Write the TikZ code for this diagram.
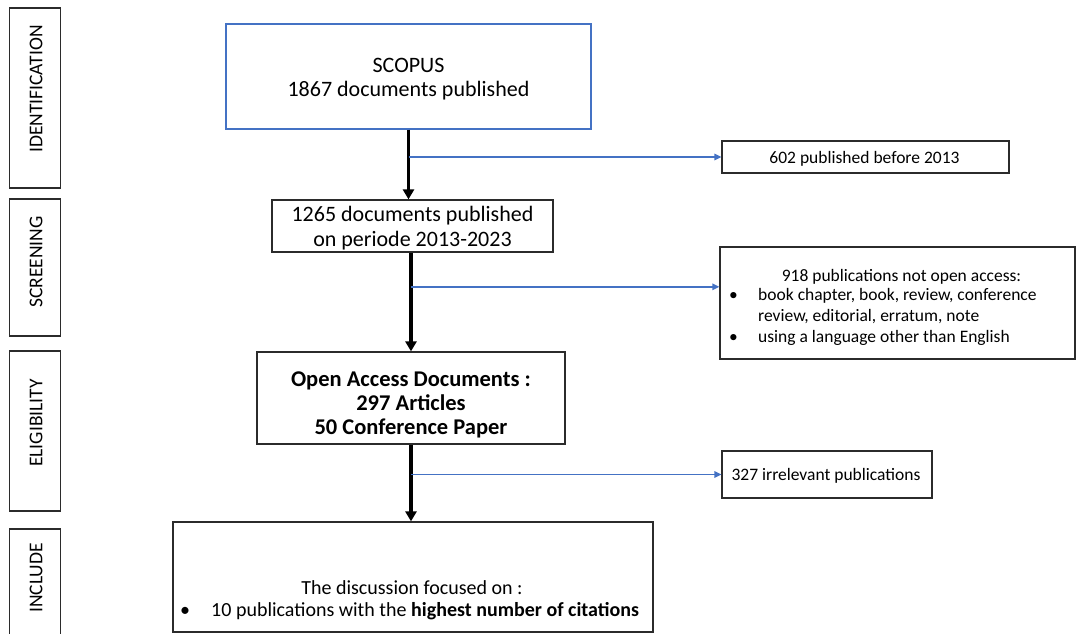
\documentclass[tikz,border=0pt]{standalone}
\usepackage{fontspec}
\setmainfont{Carlito}
\usetikzlibrary{arrows.meta,calc}
\definecolor{flowblue}{HTML}{4472C4}
\definecolor{boxline}{HTML}{2B2B2B}
\begin{document}
\begin{tikzpicture}[x=1pt,y=-1pt,
  phasebox/.style={draw=boxline, line width=1.1pt, inner sep=0pt},
  mainbox/.style={draw=boxline, line width=1.2pt, inner sep=0pt},
  bluebox/.style={draw=flowblue, line width=1.2pt, inner sep=0pt},
  phasetxt/.style={inner sep=0pt, font=\fontsize{19.5}{22}\selectfont},
  maintxt/.style={inner sep=0pt, anchor=base, font=\fontsize{22}{25}\selectfont},
  boldtxt/.style={inner sep=0pt, anchor=base, font=\fontsize{22.5}{24}\selectfont\bfseries},
  sidetxt/.style={inner sep=0pt, anchor=base, font=\fontsize{17.5}{21}\selectfont},
  sidetxtl/.style={inner sep=0pt, anchor=base west, font=\fontsize{17.5}{21}\selectfont},
  fintxt/.style={inner sep=0pt, anchor=base, font=\fontsize{20}{23}\selectfont},
  fintxtl/.style={inner sep=0pt, anchor=base west, font=\fontsize{20}{23}\selectfont},
  thickarrow/.style={line width=3.2pt, -{Triangle[width=11pt,length=10pt]}},
  bluearrow/.style={draw=flowblue, line width=1.5pt, -{Triangle[width=6.5pt,length=7pt]}}
]
\useasboundingbox (0,0) rectangle (1077,634);

% phase boxes
\node[phasebox, minimum width=51, minimum height=180] (pid) at (35,98) {};
\node[phasetxt] (lid) at (36,89) {\rotatebox{90}{IDENTIFICATION}};
\node[phasebox, minimum width=51, minimum height=137] (pscr) at (35,267.5) {};
\node[phasetxt] (lscr) at (36,262) {\rotatebox{90}{SCREENING}};
\node[phasebox, minimum width=51, minimum height=160] (pel) at (35,431) {};
\node[phasetxt] (lel) at (36,423) {\rotatebox{90}{ELIGIBILITY}};
\node[phasebox, minimum width=51, minimum height=112] (pinc) at (35,585) {};
\node[phasetxt] (linc) at (36,578) {\rotatebox{90}{INCLUDE}};

% main boxes
\node[bluebox, minimum width=365, minimum height=105] (scopus) at (408.5,76.5) {};
\node[maintxt] (s1) at (408.5,72.5) {SCOPUS};
\node[maintxt] (s2) at (408.5,96.5) {1867 documents published};

\node[mainbox, minimum width=281, minimum height=52] (box2) at (412.5,226) {};
\node[maintxt] (b21) at (412.5,221.5) {1265 documents published};
\node[maintxt] (b22) at (412.5,246.5) {on periode 2013-2023};

\node[mainbox, minimum width=308, minimum height=92] (box3) at (411,398) {};
\node[boldtxt] (b31) at (411,386) {Open Access Documents :};
\node[boldtxt] (b32) at (411,410) {297 Articles};
\node[boldtxt] (b33) at (411,434) {50 Conference Paper};

\node[mainbox, minimum width=480, minimum height=110] (final) at (413,577) {};
\node[fintxt] (f1) at (412,594) {The discussion focused on :};
\node[fintxtl] (fb) at (180,616) {\textbullet};
\node[fintxtl] (f2) at (211,616) {10 publications with the \textbf{highest number of citations}};

% side boxes
\node[mainbox, minimum width=287, minimum height=32] (s602) at (865.5,157) {};
\node[sidetxt] (t602) at (864.5,163) {602 published before 2013};

\node[mainbox, minimum width=355, minimum height=112] (s918) at (897.5,303) {};
\node[sidetxt] (t9a) at (901.5,281.5) {918 publications not open access:};
\node[sidetxtl] (t9b1) at (729,300) {\textbullet};
\node[sidetxtl] (t9b) at (758,300) {book chapter, book, review, conference};
\node[sidetxtl] (t9c) at (758,321) {review, editorial, erratum, note};
\node[sidetxtl] (t9d1) at (729,342.5) {\textbullet};
\node[sidetxtl] (t9d) at (758,342.5) {using a language other than English};

\node[mainbox, minimum width=210, minimum height=47] (s327) at (827,474.5) {};
\node[sidetxt] (t327) at (826,480.5) {327 irrelevant publications};

% connectors
\draw[thickarrow] (scopus.south) -- (scopus.south |- box2.north);
\draw[bluearrow] (scopus.south |- s602.west) -- (s602.west);

\draw[thickarrow] (box3.north |- box2.south) -- (box3.north);
\coordinate (e918) at ($(s918.north west)!0.357!(s918.south west)$);
\draw[bluearrow] (box3.north |- e918) -- (e918);

\draw[thickarrow] (box3.south) -- (box3.south |- final.north);
\draw[bluearrow] (box3.south |- s327.west) -- (s327.west);
\end{tikzpicture}
\end{document}
